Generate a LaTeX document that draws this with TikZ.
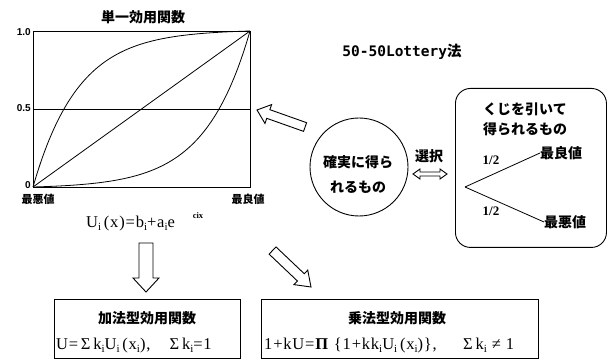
\documentclass[tikz,border=0pt]{standalone}
\usepackage{fontspec}
\setmainfont{Liberation Serif}
\newfontfamily\jp{Noto Sans CJK JP}
\newfontfamily\lsans{Liberation Sans}
\newfontfamily\dmono{DejaVu Sans Mono}
\newfontfamily\frmfont{Liberation Serif}[LetterSpace=5]
\newcommand{\lsub}[1]{\raisebox{-0.35ex}{\fontsize{11}{11}\selectfont #1}}
\begin{document}
\begin{tikzpicture}[x=1pt,y=-1pt,
  ln/.style={line width=0.8pt},
  arrline/.style={line width=0.9pt, fill=white, line join=miter},
  jpb/.style={font=\jp\bfseries\fontsize{14}{16}\selectfont, inner sep=0},
  jps/.style={font=\jp\bfseries\fontsize{11}{13}\selectfont, inner sep=0},
  axl/.style={font=\lsans\bfseries\fontsize{10}{11}\selectfont, inner sep=0},
  frm/.style={font=\frmfont\fontsize{16.5}{18}\selectfont, inner sep=0},
  half/.style={font=\bfseries\fontsize{13}{15}\selectfont, inner sep=0},
  boxn/.style={draw, line width=0.9pt, inner sep=0, anchor=north west},
  pics/blockarr/.style args={#1/#2/#3/#4}{code={
    \draw[arrline] (0,0) -- (-#4,#3) -- (-#4,#2) -- (-#1,#2) -- (-#1,-#2)
      -- (-#4,-#2) -- (-#4,-#3) -- cycle;}}
]
\useasboundingbox (0,0) rectangle (610,363);

% ---------- single utility plot ----------
\node[jpb] (ttl) at (143,17) {単一効用関数};
\node[boxn, minimum width=217pt, minimum height=156pt] (plot) at (33,31) {};
\draw[ln] (33,109) -- (250,109);
\draw[ln] (33,187) -- (250,31);
\draw[ln] plot[domain=0:1, samples=90, smooth]
  ({33+217*\x}, {187-156*(1-exp(-4.8*\x))/(1-exp(-4.8))});
\draw[ln] plot[domain=0:1, samples=90, smooth]
  ({33+217*\x}, {187-156*(exp(4.8*\x-4.8)-exp(-4.8))/(1-exp(-4.8))});
\node[axl, anchor=east] (l10) at (31,32) {1.0};
\node[axl, anchor=east] (l05) at (31,108) {0.5};
\node[axl, anchor=east] (l0) at (31,185) {0};
\node[jps] (worst1) at (38,199) {最悪値};
\node[jps] (best1) at (248,199) {最良値};

\node[frm, anchor=west] (ufun) at (86,224) {U\lsub{i}\,(x)=b\lsub{i}+a\lsub{i}e};
\node[font=\fontsize{8.5}{9}\selectfont\bfseries, inner sep=0] (ufunsup) at (198,216) {cix};

% ---------- title ----------
\node[font=\dmono\bfseries\fontsize{14.5}{16}\selectfont, inner sep=0] (lot) at (402,52) {50-50Lottery\jp 法};

% ---------- certain circle ----------
\node[draw, circle, line width=0.9pt, minimum size=98pt, inner sep=0] (cert) at (359,167) {};
\node[jpb] (c1) at (358,162) {確実に得ら};
\node[jpb] (c2) at (358,187) {れるもの};
\node[jpb] (sel) at (429,156) {選択};
\draw[arrline] (413,174) -- (420,169) -- (420,172) -- (440,172) -- (440,169) -- (447,174)
  -- (440,179) -- (440,176) -- (420,176) -- (420,179) -- cycle;

% ---------- lottery box ----------
\node[boxn, rounded corners=15pt, minimum width=151pt, minimum height=159pt] (lotbox) at (455,88) {};
\node[jpb] (k1) at (525,109) {くじを引いて};
\node[jpb] (k2) at (525,129) {得られるもの};
\coordinate (v) at (465,187);
\node[jpb, anchor=west] (best2) at (540,153) {最良値};
\node[jpb, anchor=west] (worst2) at (544,222) {最悪値};
\draw[ln] (v) -- (best2.west);
\draw[ln] (v) -- (worst2.west);
\node[half] (h1) at (491,160) {1/2};
\node[half] (h2) at (491,211) {1/2};

% ---------- block arrows ----------
\pic[rotate=160.5] at (257,110) {blockarr=51/4.6/10/12};
\pic[rotate=-90] at (146,292) {blockarr=49/7/13/14};
\pic[rotate=-43.5] at (311,287) {blockarr=53/5/10/14};

% ---------- bottom boxes ----------
\node[boxn, minimum width=186pt, minimum height=59pt] (addbox) at (54,299) {};
\node[jpb] (addt) at (147,318) {加法型効用関数};
\node[frm, anchor=west] (addf) at (56,346) {U=\,Σ\,k\lsub{i}U\lsub{i}\,(x\lsub{i}),\quad\,Σ\,k\lsub{i}=1};

\node[boxn, minimum width=277pt, minimum height=59pt] (mulbox) at (261,299) {};
\node[jpb] (mult) at (397,318) {乗法型効用関数};
\node[frm, anchor=west] (mulf) at (264,346) {1+kU=\textbf{Π}\ \{1+kk\lsub{i}U\lsub{i}\,(x\lsub{i})\},\quad\ \ Σ\,k\lsub{i}\ ≠\ 1};
\end{tikzpicture}
\end{document}
